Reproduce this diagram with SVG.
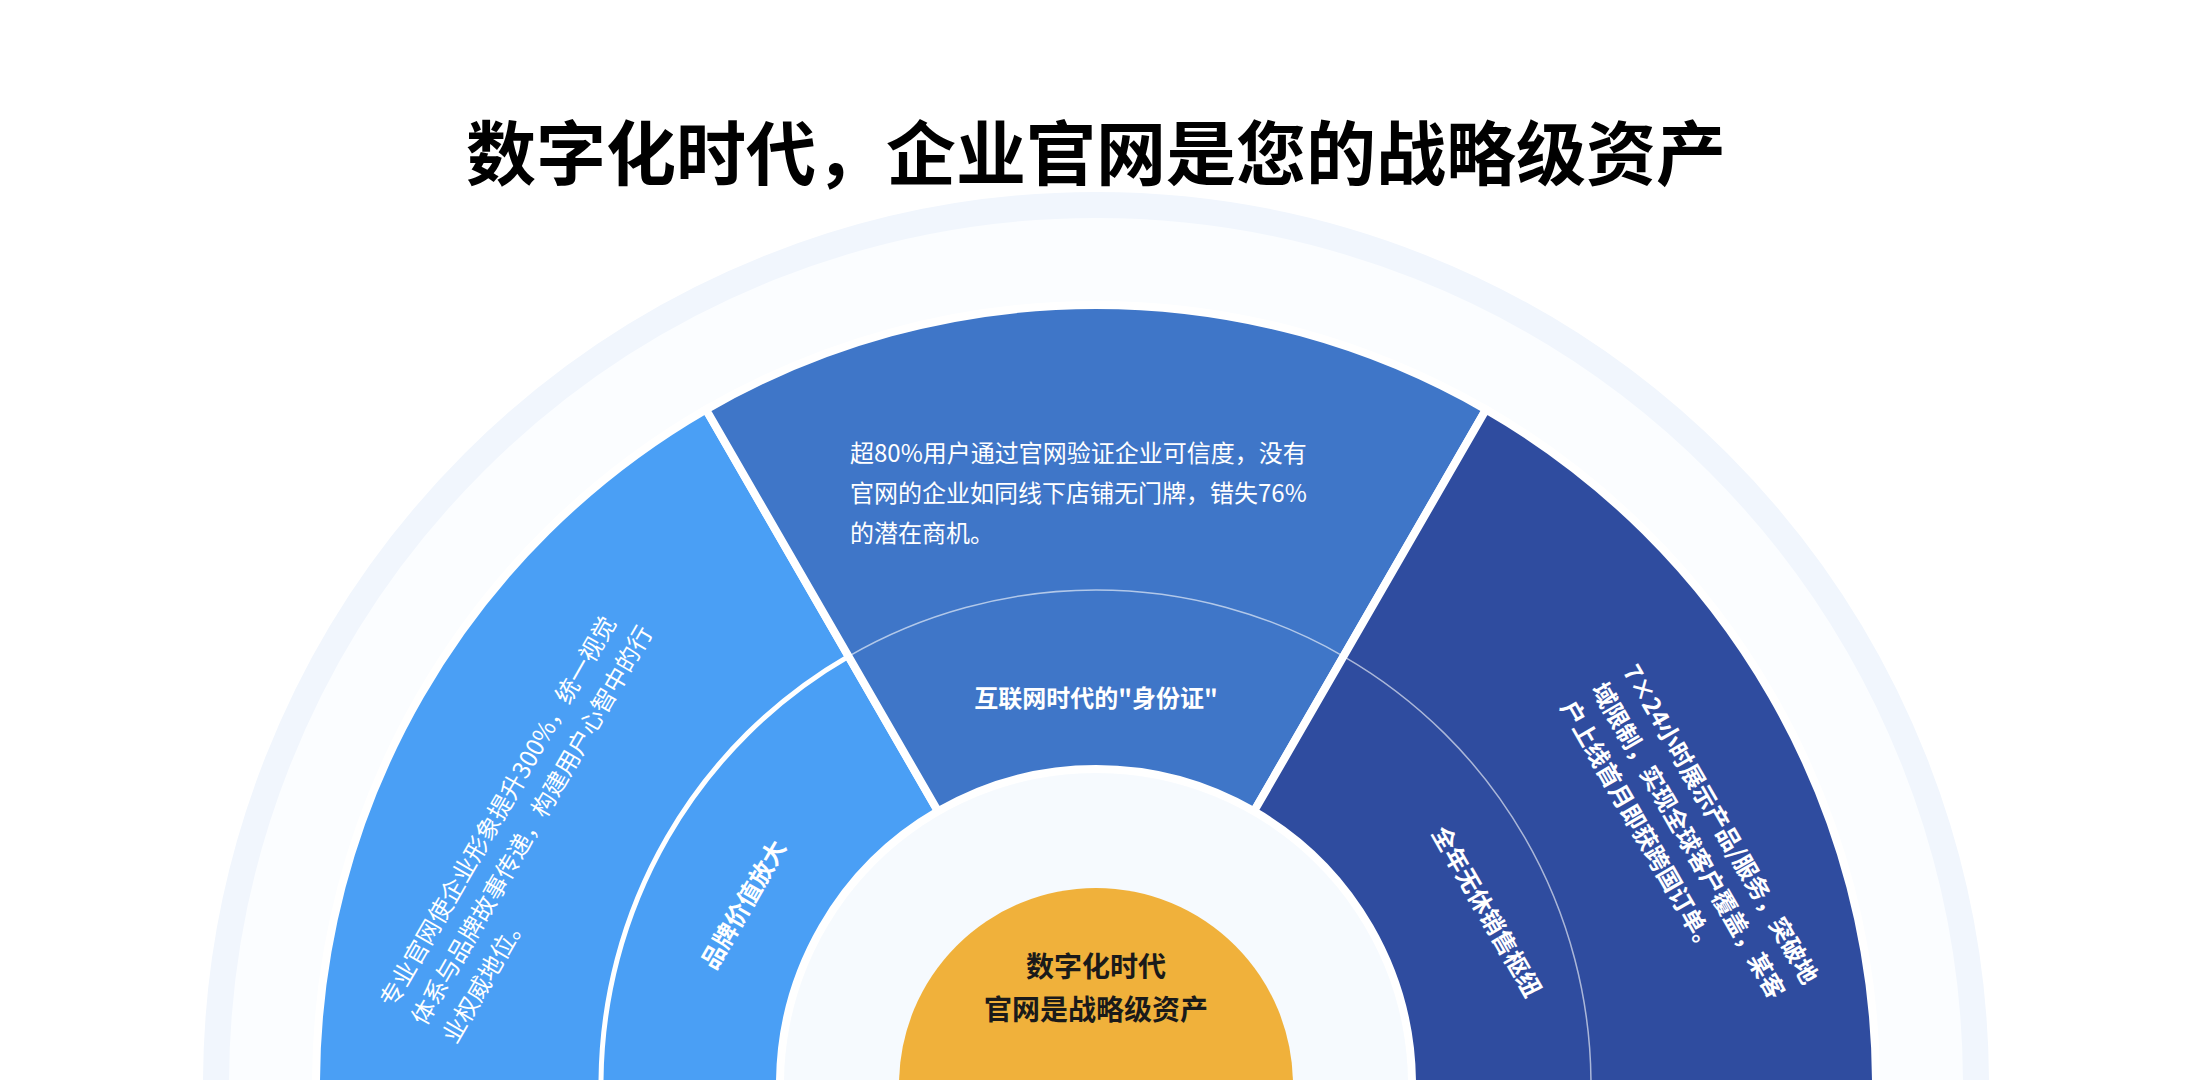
<svg xmlns="http://www.w3.org/2000/svg" width="2192" height="1080" viewBox="0 0 2192 1080">
<style>
.t{font-family:"Noto Sans CJK SC","Liberation Sans",sans-serif;}
.w{fill:#fff;font-size:24px;}
.b{font-weight:bold;}
.seg{stroke:#fff;stroke-width:8;stroke-linejoin:miter;}
</style>
<rect width="2192" height="1080" fill="#fff"/>
<g id="bg">
<circle cx="1096" cy="1085" r="880" fill="#FBFDFF" stroke="#F1F6FD" stroke-width="26"/>
</g>
<g id="brand">
<path class="seg" fill="#4A9FF5" d="M316,1085 A780,780 0 0 1 706,409.5 L938,811.3 A316,316 0 0 0 780,1085 Z"/>
<path d="M601,1085 A495,495 0 0 1 848.5,656.3" fill="none" stroke="#fff" stroke-width="5"/>
<text class="t w" transform="translate(394,1009) rotate(-60)"><tspan x="0" y="0">专业官网使企业形象提升300%，统一视觉</tspan><tspan x="0" y="36">体系与品牌故事传递，构建用户心智中的行</tspan><tspan x="0" y="72">业权威地位。</tspan></text>
<text class="t w b" font-size="29" text-anchor="middle" transform="translate(751,909) rotate(-60)">品牌价值放大</text>
</g>
<g id="identity">
<path class="seg" fill="#3F76C8" d="M706,409.5 A780,780 0 0 1 1486,409.5 L1254,811.3 A316,316 0 0 0 938,811.3 Z"/>
<path d="M848.5,656.3 A495,495 0 0 1 1343.5,656.3" fill="none" stroke="#fff" stroke-opacity="0.6" stroke-width="1.5"/>
<text class="t w" x="850" y="462"><tspan x="850">超80%用户通过官网验证企业可信度，没有</tspan><tspan x="850" dy="40">官网的企业如同线下店铺无门牌，错失76%</tspan><tspan x="850" dy="40">的潜在商机。</tspan></text>
<text class="t w b" font-size="28" x="1096" y="707" text-anchor="middle">互联网时代的"身份证"</text>
</g>
<g id="sales">
<path class="seg" fill="#2F4C9F" d="M1486,409.5 A780,780 0 0 1 1876,1085 L1412,1085 A316,316 0 0 0 1254,811.3 Z"/>
<path d="M1343.5,656.3 A495,495 0 0 1 1591,1085" fill="none" stroke="#fff" stroke-opacity="0.6" stroke-width="1.5"/>
<text class="t w b" transform="translate(1622,671) rotate(60)"><tspan x="0" y="0">7×24小时展示产品/服务，突破地</tspan><tspan x="0" y="36">域限制，实现全球客户覆盖，某客</tspan><tspan x="0" y="72">户上线首月即获跨国订单。</tspan></text>
<text class="t w b" font-size="26" text-anchor="middle" transform="translate(1479,916) rotate(60)">全年无休销售枢纽</text>
</g>
<g id="center">
<circle cx="1096" cy="1085" r="312" fill="#F6FAFE"/>
<circle cx="1096" cy="1085" r="197" fill="#F0B13B"/>
<text class="t b" font-size="28" fill="#1a1a1a" text-anchor="middle"><tspan x="1096" y="977">数字化时代</tspan><tspan x="1096" y="1020">官网是战略级资产</tspan></text>
</g>
<g id="connectors"></g>
<text class="t b" font-size="70" fill="#000" x="1096" y="180" text-anchor="middle">数字化时代，企业官网是您的战略级资产</text>
</svg>
